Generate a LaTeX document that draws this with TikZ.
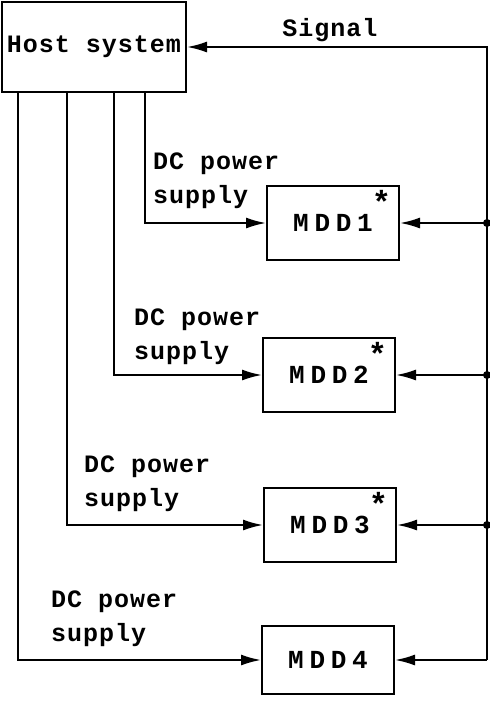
\documentclass[tikz,border=0pt]{standalone}
\usepackage{fontspec}
\usepackage{tikz}
\usetikzlibrary{arrows.meta}
\newfontfamily\diagfont{Liberation Mono Bold}[LetterSpace=4]
\newfontfamily\mddfont{Liberation Mono Bold}[LetterSpace=22]
\newcommand{\mddstar}{\rlap{\kern-0.5pt\smash{\raisebox{1.3ex}{\fontsize{16}{16}\selectfont*}}}}

\begin{document}
\begin{tikzpicture}[x=0.5pt, y=-0.5pt, font=\diagfont\fontsize{12.5}{17}\selectfont,
  box/.style={draw, line width=1pt, inner sep=0pt},
  mdd/.style={box, minimum width=66pt, minimum height=37pt, font=\mddfont\fontsize{13}{14}\selectfont},
  feed/.style={line width=1pt, -{Latex[length=10pt,width=5.5pt]}},
  tap/.style={circle, fill, inner sep=0pt, minimum size=4pt}]
  \useasboundingbox (0,0) rectangle (489,703);
  \node[box, minimum width=92pt, minimum height=45pt] (host) at (94,47) {Host system};
  \node[mdd] (mdd1) at (333,223) {MDD1\mddstar};
  \node[mdd] (mdd2) at (329,375) {MDD2\mddstar};
  \node[mdd] (mdd3) at (330,525) {MDD3\mddstar};
  \node[mdd, minimum height=34pt] (mdd4) at (328,660) {MDD4};
  % taps on the signal line
  \coordinate (t1) at (487,223);
  \coordinate (t2) at (487,375);
  \coordinate (t3) at (487,525);
  \coordinate (t4) at (487,660);
  % power lines leave the host here
  \coordinate (h1) at (145,92);
  \coordinate (h2) at (114,92);
  \coordinate (h3) at (67,92);
  \coordinate (h4) at (18,92);
  \draw[feed] (t4) |- (host.east);
  \node (sig) at (330,30) {Signal};
  \foreach \i in {1,2,3,4} {
    \draw[feed] (t\i) -- (mdd\i.east);
    \draw[feed] (h\i) |- (mdd\i.west);
  }
  \foreach \i in {1,2,3} \node[tap] (d\i) at (t\i) {};
  \node[anchor=west, align=left] (lab1) at (146,181) {DC power\\supply};
  \node[anchor=west, align=left] (lab2) at (127,337) {DC power\\supply};
  \node[anchor=west, align=left] (lab3) at (77,484) {DC power\\supply};
  \node[anchor=west, align=left] (lab4) at (44,619) {DC power\\supply};
\end{tikzpicture}
\end{document}
